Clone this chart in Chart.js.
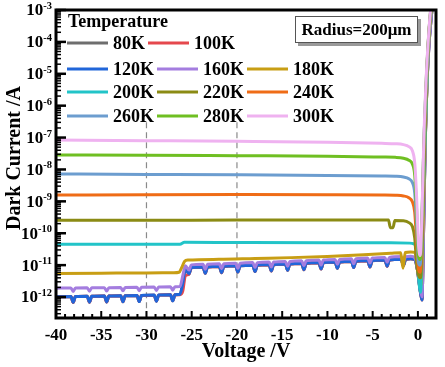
<!DOCTYPE html>
<html>
<head>
<meta charset="utf-8">
<script src="https://cdn.jsdelivr.net/npm/chart.js@4.4.0/dist/chart.umd.min.js"></script>
<style>
  body { margin: 0; background: #fff; }
  canvas { display: block; }
</style>
</head>
<body>
<canvas id="darkChart" width="445" height="367"></canvas>
<script>
const FONT = "'Liberation Serif', 'Times New Roman', serif";

const temps = ['80K', '100K', '120K', '160K', '180K', '200K', '220K', '240K', '260K', '280K', '300K'];
const colors = ['#6e6e6e', '#e5484d', '#2166d9', '#a47ddf', '#c89e14', '#22c4c8', '#8b8b14', '#ef6c17', '#6c9dcf', '#6fbf22', '#efb2f0'];

const xTicks = [-40, -35, -30, -25, -20, -15, -10, -5, 0];
const yExps = [-3, -4, -5, -6, -7, -8, -9, -10, -11, -12];
const dashV = [-30, -20];

// low temperature curves (80K..160K) share one voltage grid
const vLow = [
  -40,
  -38.35, -38.1, -37.85,
  -36.55, -36.3, -36.05,
  -34.65, -34.4, -34.15,
  -32.85, -32.6, -32.35,
  -31.05, -30.8, -30.55,
  -29.15, -28.9, -28.65,
  -27.35, -27.1, -26.85,
  -26.3, -26.0, -25.7,
  -25.3, -25.05,
  -23.75, -23.5, -23.25,
  -21.95, -21.7, -21.45,
  -20.15, -19.9, -19.65,
  -18.25, -18.0, -17.75,
  -16.45, -16.2, -15.95,
  -14.65, -14.4, -14.15,
  -12.85, -12.6, -12.35,
  -10.95, -10.7, -10.45,
  -9.15, -8.9, -8.65,
  -7.35, -7.1, -6.85,
  -5.55, -5.3, -5.05,
  -3.65, -3.4, -3.15,
  -1.85, -1.6, -1.35,
  -0.8, -0.35, -0.05, 0.2, 0.45, 0.6, 0.8, 1.1, 1.55, 1.8
];

const i120 = [
  1.02e-12,
  1.04e-12, 6.8e-13, 1.04e-12,
  1.06e-12, 6.9e-13, 1.06e-12,
  1.08e-12, 7.0e-13, 1.08e-12,
  1.10e-12, 7.1e-13, 1.10e-12,
  1.12e-12, 7.2e-13, 1.12e-12,
  1.15e-12, 7.4e-13, 1.15e-12,
  1.18e-12, 7.6e-13, 1.18e-12,
  1.22e-12, 2.6e-12, 7.6e-12,
  5.4e-12, 8.4e-12,
  8.8e-12, 5.6e-12, 8.8e-12,
  9.2e-12, 5.8e-12, 9.2e-12,
  9.6e-12, 6.1e-12, 9.6e-12,
  1.00e-11, 6.3e-12, 1.00e-11,
  1.04e-11, 6.6e-12, 1.04e-11,
  1.09e-11, 6.9e-12, 1.09e-11,
  1.14e-11, 7.2e-12, 1.14e-11,
  1.20e-11, 7.6e-12, 1.20e-11,
  1.26e-11, 8.0e-12, 1.26e-11,
  1.32e-11, 8.4e-12, 1.32e-11,
  1.39e-11, 8.8e-12, 1.39e-11,
  1.46e-11, 9.3e-12, 1.46e-11,
  1.54e-11, 9.8e-12, 1.54e-11,
  1.6e-11, 1.5e-11, 7e-12, 2e-12, 8e-13, 5e-11, 5e-8, 2e-5, 1e-3, 4e-3
];

// 80K lies under the 120K trace
const i80 = [
  1.0e-12,
  1.03e-12, 6.8e-13, 1.03e-12,
  1.05e-12, 6.9e-13, 1.05e-12,
  1.07e-12, 7.0e-13, 1.07e-12,
  1.09e-12, 7.1e-13, 1.09e-12,
  1.11e-12, 7.2e-13, 1.11e-12,
  1.14e-12, 7.4e-13, 1.14e-12,
  1.17e-12, 7.6e-13, 1.17e-12,
  1.21e-12, 2.5e-12, 7.4e-12,
  5.3e-12, 8.3e-12,
  8.7e-12, 5.6e-12, 8.7e-12,
  9.1e-12, 5.8e-12, 9.1e-12,
  9.5e-12, 6.1e-12, 9.5e-12,
  9.9e-12, 6.3e-12, 9.9e-12,
  1.03e-11, 6.6e-12, 1.03e-11,
  1.08e-11, 6.9e-12, 1.08e-11,
  1.13e-11, 7.2e-12, 1.13e-11,
  1.19e-11, 7.6e-12, 1.19e-11,
  1.25e-11, 8.0e-12, 1.25e-11,
  1.31e-11, 8.4e-12, 1.31e-11,
  1.38e-11, 8.8e-12, 1.38e-11,
  1.45e-11, 9.3e-12, 1.45e-11,
  1.53e-11, 9.8e-12, 1.53e-11,
  1.6e-11, 1.5e-11, 7e-12, 2e-12, 8e-13, 5e-11, 5e-8, 2e-5, 1e-3, 4e-3
];

// 100K: steps up a little later than 120K
const i100 = [
  1.01e-12,
  1.03e-12, 6.8e-13, 1.03e-12,
  1.05e-12, 6.9e-13, 1.05e-12,
  1.07e-12, 7.0e-13, 1.07e-12,
  1.09e-12, 7.1e-13, 1.09e-12,
  1.11e-12, 7.2e-13, 1.11e-12,
  1.14e-12, 7.4e-13, 1.14e-12,
  1.17e-12, 7.6e-13, 1.17e-12,
  1.18e-12, 1.5e-12, 4.6e-12,
  5.2e-12, 8.2e-12,
  8.7e-12, 5.6e-12, 8.7e-12,
  9.1e-12, 5.8e-12, 9.1e-12,
  9.5e-12, 6.1e-12, 9.5e-12,
  9.9e-12, 6.3e-12, 9.9e-12,
  1.03e-11, 6.6e-12, 1.03e-11,
  1.08e-11, 6.9e-12, 1.08e-11,
  1.13e-11, 7.2e-12, 1.13e-11,
  1.19e-11, 7.6e-12, 1.19e-11,
  1.25e-11, 8.0e-12, 1.25e-11,
  1.31e-11, 8.4e-12, 1.31e-11,
  1.38e-11, 8.8e-12, 1.38e-11,
  1.45e-11, 9.3e-12, 1.45e-11,
  1.53e-11, 9.8e-12, 1.53e-11,
  1.6e-11, 1.5e-11, 7e-12, 2e-12, 8e-13, 5e-11, 5e-8, 2e-5, 1e-3, 4e-3
];

const i160 = [
  1.9e-12,
  1.92e-12, 1.5e-12, 1.92e-12,
  1.95e-12, 1.52e-12, 1.95e-12,
  1.97e-12, 1.54e-12, 1.97e-12,
  2.0e-12, 1.56e-12, 2.0e-12,
  2.03e-12, 1.58e-12, 2.03e-12,
  2.06e-12, 1.6e-12, 2.06e-12,
  2.1e-12, 1.64e-12, 2.1e-12,
  2.12e-12, 4.5e-12, 9.5e-12,
  7.0e-12, 1.02e-11,
  1.06e-11, 7.4e-12, 1.06e-11,
  1.1e-11, 7.7e-12, 1.1e-11,
  1.15e-11, 8.0e-12, 1.15e-11,
  1.2e-11, 8.4e-12, 1.2e-11,
  1.25e-11, 8.8e-12, 1.25e-11,
  1.31e-11, 9.2e-12, 1.31e-11,
  1.37e-11, 9.6e-12, 1.37e-11,
  1.44e-11, 1.0e-11, 1.44e-11,
  1.51e-11, 1.06e-11, 1.51e-11,
  1.58e-11, 1.1e-11, 1.58e-11,
  1.67e-11, 1.17e-11, 1.67e-11,
  1.75e-11, 1.23e-11, 1.75e-11,
  1.85e-11, 1.3e-11, 1.85e-11,
  1.9e-11, 1.7e-11, 8e-12, 2.5e-12, 1e-12, 6e-11, 6e-8, 2.2e-5, 1.1e-3, 4e-3
];

const v180 = [-40, -35, -30, -27, -26.4, -26.1, -25.8, -25.4, -22, -18, -14, -10, -6, -3, -1.9, -1.65, -1.4, -0.8, -0.35, -0.1, 0.1, 0.35, 0.55, 0.8, 1.1, 1.5, 1.8];
const i180 = [5.5e-12, 5.6e-12, 5.7e-12, 5.8e-12, 6.0e-12, 8.5e-12, 1.3e-11, 1.44e-11, 1.52e-11, 1.62e-11, 1.72e-11, 1.88e-11, 2.1e-11, 2.35e-11, 2.45e-11, 8e-12, 2.5e-11, 2.6e-11, 2.5e-11, 1.2e-11, 4e-12, 2.4e-12, 1e-10, 8e-8, 3e-5, 1.2e-3, 4e-3];

const v200 = [-40, -30, -26.3, -25.8, -20, -10, -3, -0.9, -0.4, -0.15, 0.05, 0.3, 0.5, 0.8, 1.1, 1.5, 1.8];
const i200 = [4.5e-11, 4.5e-11, 4.5e-11, 5.2e-11, 5.1e-11, 5.0e-11, 5.0e-11, 4.9e-11, 4.6e-11, 3.5e-11, 5e-12, 1.4e-12, 2e-10, 1e-7, 4e-5, 1.3e-3, 4e-3];

const v220 = [-40, -30, -20, -10, -4, -3.25, -3.05, -2.75, -2.55, -1.6, -1.0, -0.6, -0.35, -0.15, 0.05, 0.3, 0.55, 0.8, 1.1, 1.5, 1.8];
const i220 = [2.55e-10, 2.55e-10, 2.6e-10, 2.6e-10, 2.6e-10, 2.6e-10, 1.5e-10, 1.5e-10, 2.5e-10, 2.45e-10, 2.15e-10, 1.6e-10, 7e-11, 1.2e-11, 5e-12, 4e-12, 6e-10, 3e-7, 6e-5, 1.4e-3, 4e-3];

// 240K..300K share one grid
const vHigh = [-40, -30, -20, -10, -4, -2.5, -1.6, -1.0, -0.6, -0.35, -0.15, 0.05, 0.25, 0.45, 0.65, 0.9, 1.2, 1.5, 1.8];
const i240 = [1.58e-9, 1.62e-9, 1.64e-9, 1.62e-9, 1.58e-9, 1.55e-9, 1.48e-9, 1.3e-9, 9.5e-10, 4.5e-10, 6e-11, 8e-12, 6e-12, 1.5e-10, 3e-8, 3e-6, 1.5e-4, 1.5e-3, 4e-3];
const i260 = [7.2e-9, 7.0e-9, 6.8e-9, 6.5e-9, 6.2e-9, 6.1e-9, 5.8e-9, 5.1e-9, 3.8e-9, 1.8e-9, 2e-10, 1.2e-11, 1e-11, 2.5e-10, 5e-8, 4e-6, 1.7e-4, 1.6e-3, 4e-3];
const i280 = [2.85e-8, 2.8e-8, 2.7e-8, 2.6e-8, 2.45e-8, 2.4e-8, 2.25e-8, 1.95e-8, 1.45e-8, 6.5e-9, 6e-10, 2e-11, 1.5e-11, 3e-10, 6e-8, 5e-6, 1.8e-4, 1.7e-3, 4e-3];
const i300 = [8.4e-8, 8.0e-8, 7.6e-8, 7.1e-8, 6.6e-8, 6.4e-8, 6.0e-8, 5.2e-8, 3.8e-8, 1.6e-8, 1.5e-9, 5e-11, 2e-11, 4e-10, 8e-8, 6e-6, 2e-4, 1.8e-3, 4e-3];

const Y_MIN = 2.2e-13;
const Y_MAX = 1e-3;

const curves = [
  [vLow, i80], [vLow, i100], [vLow, i120], [vLow, i160], [v180, i180], [v200, i200],
  [v220, i220], [vHigh, i240], [vHigh, i260], [vHigh, i280], [vHigh, i300]
];

const toPoints = (v, i) => v.map((x, k) => ({ x: x, y: i[k] }));

const datasets = curves.map(([v, i], k) => ({
  label: temps[k],
  data: toPoints(v, i),
  borderColor: colors[k],
  borderWidth: 3,
  pointRadius: 0,
  cubicInterpolationMode: 'monotone',
  borderJoinStyle: 'round',
  order: temps.length - k
}));

dashV.forEach((v) => {
  datasets.push({
    label: 'dash' + v,
    data: [{ x: v, y: 3e-7 }, { x: v, y: Y_MIN }],
    borderColor: '#8a8a8a',
    borderWidth: 1.2,
    borderDash: [6, 4],
    pointRadius: 0,
    tension: 0,
    order: 100
  });
});

const legendRows = [[0, 1], [2, 3, 4], [5, 6, 7], [8, 9, 10]];
const legendRowY = [43, 69, 92, 116];

const framePlugin = {
  id: 'frame',
  afterDatasetsDraw(chart) {
    const ctx = chart.ctx;
    const { left, right, top, bottom } = chart.chartArea;
    const xs = chart.scales.x;
    const ys = chart.scales.y;
    ctx.save();
    ctx.fillStyle = '#000';
    ctx.strokeStyle = '#000';

    // x ticks, inward
    for (let v = -40; v <= 2; v++) {
      const px = xs.getPixelForValue(v);
      const len = v % 5 === 0 ? 7 : 4;
      ctx.lineWidth = 2;
      ctx.beginPath();
      ctx.moveTo(px, bottom);
      ctx.lineTo(px, bottom - len);
      ctx.stroke();
    }
    // y ticks, inward
    for (let e = -13; e <= -3; e++) {
      for (let m = 1; m <= 9; m++) {
        const val = m * Math.pow(10, e);
        if (val < Y_MIN || val > Y_MAX * 1.0001) continue;
        const py = ys.getPixelForValue(val);
        ctx.lineWidth = m === 1 ? 2.5 : 1.5;
        ctx.beginPath();
        ctx.moveTo(left, py);
        ctx.lineTo(left + (m === 1 ? 10 : 5), py);
        ctx.stroke();
      }
    }

    // frame
    ctx.lineWidth = 3;
    ctx.strokeRect(left, top, right - left, bottom - top);

    // x labels
    ctx.font = 'bold 17px ' + FONT;
    ctx.textAlign = 'center';
    ctx.textBaseline = 'alphabetic';
    xTicks.forEach((v) => {
      ctx.fillText(String(v), xs.getPixelForValue(v), 340);
    });

    // y labels 10^e
    ctx.textAlign = 'left';
    yExps.forEach((e) => {
      const py = ys.getPixelForValue(Math.pow(10, e));
      const exp = String(e);
      ctx.font = 'bold 10.5px ' + FONT;
      const we = ctx.measureText(exp).width;
      ctx.font = 'bold 17px ' + FONT;
      const wb = ctx.measureText('10').width;
      const x0 = 52 - we - wb;
      ctx.textBaseline = 'middle';
      ctx.fillText('10', x0, py + 1);
      ctx.font = 'bold 10.5px ' + FONT;
      ctx.textBaseline = 'alphabetic';
      ctx.fillText(exp, x0 + wb, py - 1);
    });

    // axis titles
    ctx.font = 'bold 20px ' + FONT;
    ctx.textAlign = 'center';
    ctx.textBaseline = 'alphabetic';
    ctx.fillText('Voltage /V', (left + right) / 2, 357);
    ctx.save();
    ctx.translate(20, 158);
    ctx.rotate(-Math.PI / 2);
    ctx.fillText('Dark Current /A', 0, 0);
    ctx.restore();

    // legend
    ctx.textAlign = 'left';
    ctx.textBaseline = 'middle';
    ctx.font = 'bold 18px ' + FONT;
    ctx.fillText('Temperature', 68, 22);
    legendRows.forEach((row, r) => {
      let x = 67;
      const y = legendRowY[r];
      row.forEach((k) => {
        ctx.strokeStyle = colors[k];
        ctx.lineWidth = 3;
        ctx.beginPath();
        ctx.moveTo(x, y);
        ctx.lineTo(x + 41, y);
        ctx.stroke();
        x += 46;
        ctx.fillStyle = '#000';
        ctx.fillText(temps[k], x, y + 1);
        x += ctx.measureText(temps[k]).width + 3;
      });
    });

    // radius box
    ctx.fillStyle = '#9a9a9a';
    ctx.fillRect(298, 19, 123, 27);
    ctx.fillStyle = '#fff';
    ctx.fillRect(295, 16, 123, 27);
    ctx.strokeStyle = '#555';
    ctx.lineWidth = 1;
    ctx.strokeRect(295.5, 16.5, 122, 26);
    ctx.fillStyle = '#000';
    ctx.font = 'bold 17px ' + FONT;
    ctx.textAlign = 'center';
    ctx.fillText('Radius=200\u03bcm', 356.5, 30.5);

    ctx.restore();
  }
};

new Chart(document.getElementById('darkChart'), {
  type: 'line',
  data: { datasets: datasets },
  options: {
    responsive: false,
    animation: false,
    devicePixelRatio: 1,
    layout: { padding: { left: 56, right: 9, top: 10, bottom: 49 } },
    plugins: { legend: { display: false }, tooltip: { enabled: false } },
    scales: {
      x: { type: 'linear', min: -40, max: 2, display: false },
      y: { type: 'logarithmic', min: Y_MIN, max: Y_MAX, display: false }
    }
  },
  plugins: [framePlugin]
});
</script>
</body>
</html>
